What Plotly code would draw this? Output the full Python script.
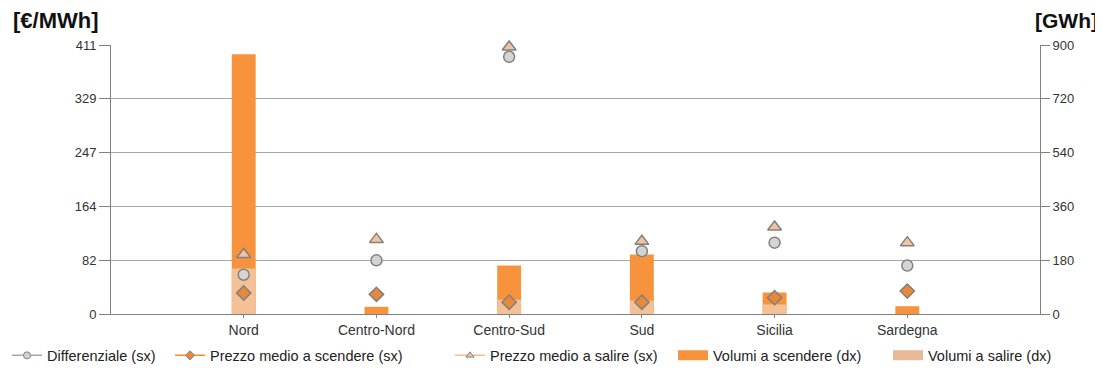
import plotly.graph_objects as go

categories = ["Nord", "Centro-Nord", "Centro-Sud", "Sud", "Sicilia", "Sardegna"]
differenziale = [60, 82, 393, 96, 109, 74]
prezzo_scendere = [32, 30, 18, 18, 25, 35]
prezzo_salire = [91, 114, 408, 111, 133, 109]
volumi_scendere = [869, 24, 162, 199, 72, 26]
volumi_salire = [152, 0, 48, 45, 32, 0]
left_ticks = [0, 82.2, 164.4, 246.6, 328.8, 411]
left_ticktext = ["0", "82", "164", "247", "329", "411"]
right_ticks = [0, 180, 360, 540, 720, 900]

x = list(range(len(categories)))
FONT = "Liberation Sans, Arial, sans-serif"
C_DARK = "#F7933C"
C_LIGHT = "#F4C197"
C_LEG_LIGHT = "#E9B896"
C_EDGE = "#808080"

# page body has an 8px default margin: work in reference pixels, shift by 8
OFF = 8
L, R, T, B = 111 - OFF, 1040 - OFF, 45 - OFF, 314.5 - OFF
W, H = 1103 - OFF, 372 - OFF

def px2x(px):
    return (px - OFF - L) / (R - L)

def px2y(py):
    return (B - (py - OFF)) / (B - T)

fig = go.Figure()

# bars on primary y (right side, GWh)
fig.add_trace(go.Bar(x=x, y=volumi_scendere, width=0.18, marker=dict(color=C_DARK, line=dict(width=0)),
                     name="Volumi a scendere (dx)", yaxis="y", showlegend=False))
fig.add_trace(go.Bar(x=x, y=volumi_salire, width=0.18, marker=dict(color=C_LIGHT, line=dict(width=0)),
                     name="Volumi a salire (dx)", yaxis="y", showlegend=False))

# markers on secondary y (left side, €/MWh)
fig.add_trace(go.Scatter(x=x, y=prezzo_salire, mode="markers", yaxis="y2", showlegend=False, cliponaxis=False,
                         marker=dict(symbol="triangle-up", size=12, color="#F2C3A0", line=dict(color=C_EDGE, width=1.5))))
fig.add_trace(go.Scatter(x=x, y=differenziale, mode="markers", yaxis="y2", showlegend=False, cliponaxis=False,
                         marker=dict(symbol="circle", size=11, color="#D4D4D4", line=dict(color=C_EDGE, width=1.5))))
fig.add_trace(go.Scatter(x=x, y=prezzo_scendere, mode="markers", yaxis="y2", showlegend=False, cliponaxis=False,
                         marker=dict(symbol="diamond", size=11, color="#E8883A", line=dict(color=C_EDGE, width=1.5))))

# legend-only entries
fig.add_trace(go.Scatter(x=[None], y=[None], mode="lines+markers", yaxis="y2", name="Differenziale (sx)",
                         line=dict(color="#A6A6A6", width=1.5),
                         marker=dict(symbol="circle", size=7, color="#D4D4D4", line=dict(color=C_EDGE, width=1)),
                         legend="legend"))
fig.add_trace(go.Scatter(x=[None], y=[None], mode="lines+markers", yaxis="y2", name="Prezzo medio a scendere (sx)",
                         line=dict(color="#F28C38", width=1.5),
                         marker=dict(symbol="diamond", size=7, color="#E8883A", line=dict(color=C_EDGE, width=1)),
                         legend="legend2"))
fig.add_trace(go.Scatter(x=[None], y=[None], mode="lines+markers", yaxis="y2", name="Prezzo medio a salire (sx)",
                         line=dict(color="#F5C08F", width=1.5),
                         marker=dict(symbol="triangle-up", size=7, color="#F2C3A0", line=dict(color=C_EDGE, width=1)),
                         legend="legend3"))
fig.add_trace(go.Scatter(x=[None], y=[None], mode="lines", yaxis="y2", name="Volumi a scendere (dx)",
                         line=dict(color=C_DARK, width=11), legend="legend4"))
fig.add_trace(go.Scatter(x=[None], y=[None], mode="lines", yaxis="y2", name="Volumi a salire (dx)",
                         line=dict(color=C_LEG_LIGHT, width=11), legend="legend5"))

def leg(xpos):
    return dict(x=xpos, y=px2y(356), xanchor="left", yanchor="middle", orientation="h",
                bgcolor="rgba(0,0,0,0)", font=dict(family=FONT, size=14.5, color="#222"),
                itemwidth=30, tracegroupgap=0)

fig.update_layout(
    width=W, height=H,
    margin=dict(l=L, r=W - R, t=T, b=H - B, autoexpand=False),
    paper_bgcolor="white", plot_bgcolor="white",
    barmode="overlay",
    font=dict(family=FONT, size=13, color="#333"),
    xaxis=dict(range=[-1, 6], tickvals=x, ticktext=categories, showgrid=False,
               showline=True, linecolor=C_EDGE, linewidth=1, ticks="outside", ticklen=3,
               tickcolor=C_EDGE, tickfont=dict(size=14, color="#333"), zeroline=False),
    yaxis=dict(side="right", range=[0, 900], tickvals=right_ticks, showgrid=True, gridcolor="#A6A6A6",
               gridwidth=1, showline=True, linecolor=C_EDGE, ticks="outside", ticklen=9, tickcolor=C_EDGE,
               tickfont=dict(size=13, color="#333"), zeroline=False),
    yaxis2=dict(side="left", overlaying="y", range=[0, 411], tickvals=left_ticks, ticktext=left_ticktext,
                showgrid=False, showline=True, linecolor=C_EDGE, ticks="outside", ticklen=11, tickcolor=C_EDGE,
                tickfont=dict(size=13, color="#333"), zeroline=False),
    legend=leg(px2x(7)),
    legend2=leg(px2x(170)),
    legend3=leg(px2x(450)),
    legend4=leg(px2x(673)),
    legend5=leg(px2x(888)),
    annotations=[
        dict(text="<b>[€/MWh]</b>", x=px2x(11), y=px2y(20), xref="paper", yref="paper", showarrow=False,
             font=dict(family=FONT, size=22, color="#111"), xanchor="left", yanchor="middle"),
        dict(text="<b>[GWh]</b>", x=px2x(1100), y=px2y(20), xref="paper", yref="paper", showarrow=False,
             font=dict(family=FONT, size=21, color="#111"), xanchor="right", yanchor="middle"),
    ],
)

fig.write_html("out.html")
